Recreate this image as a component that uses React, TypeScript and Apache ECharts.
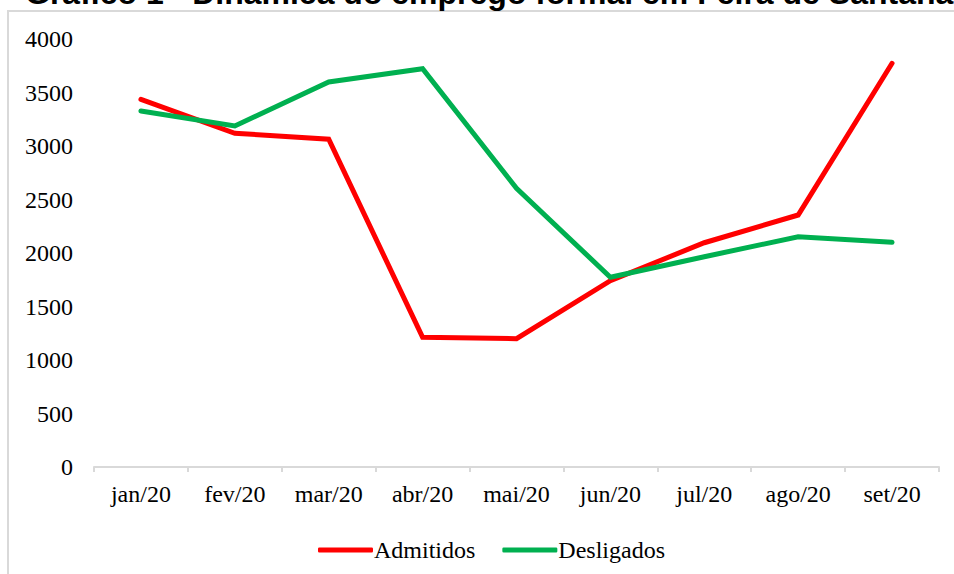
import React, { useEffect, useRef } from "react";
import * as echarts from "echarts";

const titleText = "Gráfico 1 - Dinâmica do emprego formal em Feira de Santana";
const categories = ["jan/20", "fev/20", "mar/20", "abr/20", "mai/20", "jun/20", "jul/20", "ago/20", "set/20"];
const admitidos = [3436, 3119, 3063, 1212, 1199, 1741, 2096, 2355, 3773];
const desligados = [3327, 3187, 3598, 3722, 2605, 1773, 1965, 2152, 2100];
const seriesNames = ["Admitidos", "Desligados"];

const serif = '"Liberation Serif", "Times New Roman", serif';

export default function App() {
  const ref = useRef<HTMLDivElement>(null);
  useEffect(() => {
    if (!ref.current) return;
    const chart = echarts.init(ref.current, undefined, { renderer: "svg" });
    chart.setOption({
      animation: false,
      backgroundColor: "#ffffff",
      graphic: [
        {
          type: "rect",
          shape: { x: 8, y: 11, width: 1200, height: 1000 },
          style: { fill: "none", stroke: "#d9d9d9", lineWidth: 2 },
          silent: true,
          z: -1,
        },
        {
          type: "text",
          x: 25,
          y: -7,
          style: {
            text: titleText,
            font: 'bold 32px "Liberation Sans", Arial, sans-serif',
            fill: "#000000",
            textAlign: "left",
            textVerticalAlign: "middle",
          },
          silent: true,
        },
      ],
      legend: {
        data: seriesNames,
        left: 313,
        top: 533,
        icon: "roundRect",
        itemWidth: 55,
        itemHeight: 5,
        itemGap: 27,
        textStyle: { fontFamily: serif, fontSize: 24, color: "#000000", padding: [0, 0, 0, -4] },
      },
      grid: { left: 94, right: 15, top: 39, bottom: 574 - 467, containLabel: false },
      xAxis: {
        type: "category",
        data: categories,
        boundaryGap: true,
        axisLine: { lineStyle: { color: "#d9d9d9", width: 2 } },
        axisTick: { show: true, length: 5, lineStyle: { color: "#d9d9d9", width: 2 } },
        axisLabel: { fontFamily: serif, fontSize: 24, color: "#000000", margin: 15 },
        splitLine: { show: false },
      },
      yAxis: {
        type: "value",
        min: 0,
        max: 4000,
        interval: 500,
        axisLine: { show: false },
        axisTick: { show: false },
        splitLine: { show: false },
        axisLabel: {
          fontFamily: serif,
          fontSize: 24,
          color: "#000000",
          margin: 21,
          formatter: (v: number) => String(v),
        },
      },
      series: [
        {
          name: seriesNames[0],
          type: "line",
          data: admitidos,
          showSymbol: false,
          symbol: "none",
          color: "#ff0000",
          lineStyle: { color: "#ff0000", width: 5, cap: "round", join: "miter" },
        },
        {
          name: seriesNames[1],
          type: "line",
          data: desligados,
          showSymbol: false,
          symbol: "none",
          color: "#00b050",
          lineStyle: { color: "#00b050", width: 5, cap: "round", join: "miter" },
        },
      ],
    });
    return () => chart.dispose();
  }, []);
  return (
    <div
      ref={ref}
      style={{ position: "fixed", left: 0, top: 0, width: 954, height: 574 }}
    />
  );
}
